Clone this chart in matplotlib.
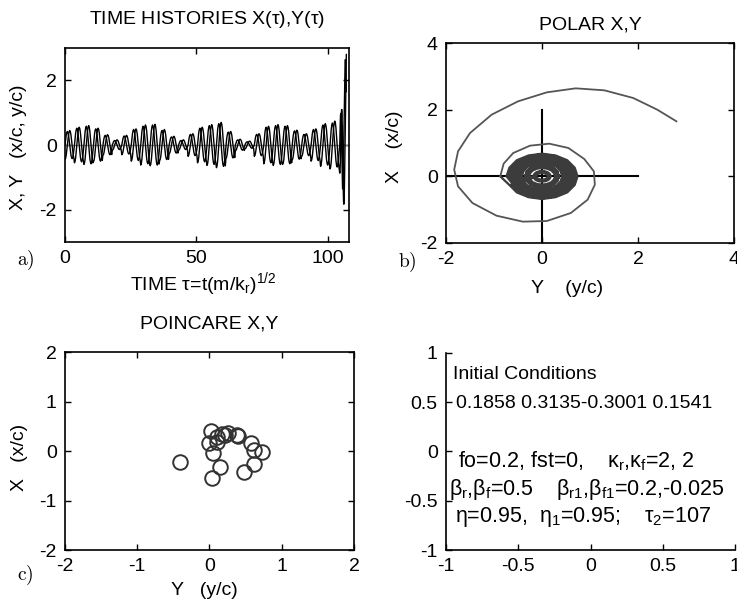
import numpy as np
import matplotlib
matplotlib.use("Agg")
import matplotlib.pyplot as plt
from matplotlib.ticker import FuncFormatter

plt.rcParams['font.family'] = ['Liberation Sans', 'DejaVu Sans']
plt.rcParams['mathtext.fontset'] = 'custom'
plt.rcParams['mathtext.rm'] = 'Liberation Sans'
plt.rcParams['mathtext.it'] = 'Liberation Sans'
plt.rcParams['axes.unicode_minus'] = False
plt.rcParams['font.size'] = 14

# ---- data ----
# oscillation amplitude of X and Y for each cycle (period ~3.6)
amp_x = [0.42, 0.52, 0.58, 0.50, 0.30, 0.14, 0.28, 0.48, 0.58, 0.62,
         0.45, 0.25, 0.14, 0.33, 0.52, 0.60, 0.66, 0.40, 0.16, 0.10,
         0.33, 0.55, 0.60, 0.58, 0.44, 0.33, 0.48, 0.62, 0.68]
amp_y = [0.45, 0.55, 0.60, 0.52, 0.32, 0.16, 0.30, 0.50, 0.62, 0.64,
         0.48, 0.27, 0.16, 0.35, 0.55, 0.63, 0.70, 0.42, 0.18, 0.12,
         0.35, 0.58, 0.63, 0.60, 0.46, 0.35, 0.50, 0.66, 0.74]
# one cycle of the motion, 16 samples (clockwise in the Y-X plane)
loop_y = [-1.0, -0.92, -0.71, -0.38, 0.0, 0.38, 0.71, 0.92,
          1.0, 0.92, 0.71, 0.38, 0.0, -0.38, -0.71, -0.92]
loop_x = [0.0, 0.38, 0.71, 0.92, 1.0, 0.92, 0.71, 0.38,
          0.0, -0.38, -0.71, -0.92, -1.0, -0.92, -0.71, -0.38]
dt = 0.225

# diverging tail (last turns of the spiral)
tail_t = [104.50, 104.60, 104.69, 104.79, 104.88, 104.98, 105.08, 105.17, 105.27,
          105.37, 105.46, 105.56, 105.65, 105.75, 105.85, 105.94, 106.04, 106.13,
          106.23, 106.33, 106.42, 106.52, 106.62, 106.71, 106.81, 106.90, 107.00]
tail_y = [-0.87, -0.80, -0.60, -0.25, 0.15, 0.55, 0.88, 1.08, 1.10,
          0.95, 0.60, 0.10, -0.40, -0.95, -1.45, -1.75, -1.83, -1.75,
          -1.50, -1.05, -0.50, 0.10, 0.70, 1.30, 1.90, 2.40, 2.80]
tail_x = [0.00, 0.38, 0.70, 0.92, 0.98, 0.85, 0.52, 0.15, -0.25,
          -0.70, -1.10, -1.34, -1.36, -1.18, -0.80, -0.30, 0.20, 0.75,
          1.30, 1.85, 2.25, 2.52, 2.64, 2.58, 2.35, 2.00, 1.65]

# poincare section points
pc_y = [-0.41, 0.02, 0.00, 0.05, 0.10, 0.17, 0.26, 0.22, 0.39, 0.38,
        0.57, 0.61, 0.72, 0.62, 0.48, 0.15, 0.03, 0.10]
pc_x = [-0.22, 0.41, 0.16, -0.05, 0.29, 0.34, 0.37, 0.32, 0.30, 0.33,
        0.17, 0.03, -0.01, -0.26, -0.42, -0.32, -0.55, 0.19]

ic_text = ['Initial Conditions',
           '0.1858 0.3135-0.3001 0.1541',
           'fo=0.2, fst=0,    $\\kappa_r$,$\\kappa_f$=2, 2',
           '$\\beta_r$,$\\beta_f$=0.5    $\\beta_{r1}$,$\\beta_{f1}$=0.2,-0.025',
           '$\\eta$=0.95,  $\\eta_1$=0.95;    $\\tau_2$=107']
ic_pos = [(-0.95, 0.78), (-0.93, 0.49), (-0.92, -0.10), (-0.98, -0.39), (-0.94, -0.67)]
ic_size = [14, 14, 15.5, 15.5, 15.5]

# ---- build series ----
X = np.concatenate([(np.array(amp_x)[:, None] * np.array(loop_x)[None, :]).ravel(), tail_x])
Y = np.concatenate([(np.array(amp_y)[:, None] * np.array(loop_y)[None, :]).ravel(), tail_y])
n_body = len(amp_x) * len(loop_x)
t = np.concatenate([np.arange(n_body) * dt, tail_t])

gfmt = FuncFormatter(lambda v, p: '%g' % v)


def box_axes(ax):
    ax.tick_params(direction='in', top=True, right=True, length=4, width=1,
                   labelsize=14, pad=6)
    for s in ax.spines.values():
        s.set_linewidth(1.2)


fig = plt.figure(figsize=(7.37, 6.04), dpi=100)

# a) time histories
ax1 = fig.add_axes([0.0882, 0.5993, 0.3853, 0.3212])
ax1.axhline(0, color='#888888', lw=1)
ax1.plot(t, X, color='black', lw=1)
ax1.plot(t, Y, color='black', lw=1)
ax1.set_xlim(0, 108)
ax1.set_ylim(-3, 3)
ax1.set_xticks([0, 50, 100])
ax1.set_yticks([-2, 0, 2])
ax1.yaxis.set_major_formatter(gfmt)
box_axes(ax1)
ax1.set_title('TIME HISTORIES X($\\tau$),Y($\\tau$)', fontsize=14, pad=17)
ax1.set_ylabel('X, Y   (x/c, y/c)', fontsize=14)
ax1.yaxis.set_label_coords(-0.135, 0.49)
ax1.set_xlabel('TIME $\\tau$=t(m/k$_r$)$^{1/2}$', fontsize=14)
ax1.xaxis.set_label_coords(0.486, -0.145)

# b) polar
ax2 = fig.add_axes([0.6052, 0.5977, 0.3908, 0.3311])
ax2.plot([-2, 2], [0, 0], color='black', lw=1.5)
ax2.plot([0, 0], [-2, 2], color='black', lw=1.5)
ax2.plot(Y[:n_body + 1], X[:n_body + 1], color='#3c3c3c', lw=1.6)
ax2.plot(Y[n_body:], X[n_body:], color='#555555', lw=1.3)
ax2.set_xlim(-2, 4)
ax2.set_ylim(-2, 4)
ax2.set_xticks([-2, 0, 2, 4])
ax2.set_yticks([-2, 0, 2, 4])
ax2.xaxis.set_major_formatter(gfmt)
ax2.yaxis.set_major_formatter(gfmt)
box_axes(ax2)
ax2.set_title('POLAR X,Y', fontsize=14, pad=10)
ax2.set_ylabel('X    (x/c)', fontsize=14)
ax2.yaxis.set_label_coords(-0.15, 0.48)
ax2.set_xlabel('Y    (y/c)', fontsize=14)
ax2.xaxis.set_label_coords(0.42, -0.185)

# c) poincare
ax3 = fig.add_axes([0.0882, 0.0894, 0.3921, 0.3278])
ax3.plot(pc_y, pc_x, 'o', mfc='none', mec='#333333', ms=10.5, mew=1.4)
ax3.set_xlim(-2, 2)
ax3.set_ylim(-2, 2)
ax3.set_xticks([-2, -1, 0, 1, 2])
ax3.set_yticks([-2, -1, 0, 1, 2])
ax3.xaxis.set_major_formatter(gfmt)
ax3.yaxis.set_major_formatter(gfmt)
box_axes(ax3)
ax3.set_title('POINCARE X,Y', fontsize=14, pad=17)
ax3.set_ylabel('X   (x/c)', fontsize=14)
ax3.yaxis.set_label_coords(-0.128, 0.47)
ax3.set_xlabel('Y   (y/c)', fontsize=14)
ax3.xaxis.set_label_coords(0.481, -0.162)

# d) parameters
ax4 = fig.add_axes([0.6052, 0.0894, 0.3921, 0.3262])
ax4.set_xlim(-1, 1)
ax4.set_ylim(-1, 1)
ax4.set_xticks([-1, -0.5, 0, 0.5, 1])
ax4.set_yticks([-1, -0.5, 0, 0.5, 1])
ax4.xaxis.set_major_formatter(gfmt)
ax4.yaxis.set_major_formatter(gfmt)
ax4.spines['top'].set_visible(False)
ax4.spines['right'].set_visible(False)
ax4.spines['left'].set_linewidth(1.2)
ax4.spines['bottom'].set_linewidth(1.2)
ax4.tick_params(direction='in', length=4, width=1, labelsize=14, pad=6)
for txt, (px, py), fs in zip(ic_text, ic_pos, ic_size):
    ax4.text(px, py, txt, fontsize=fs, ha='left', va='center')

# panel letters
for lab, fx, fy in [('a)', 17, 260), ('b)', 398, 262), ('c)', 17, 575)]:
    fig.text(fx / 737, 1 - fy / 604, '$\\mathrm{%s}$' % lab, fontsize=14,
             math_fontfamily='cm', ha='left', va='center')

fig.savefig('out.png', dpi=100)
